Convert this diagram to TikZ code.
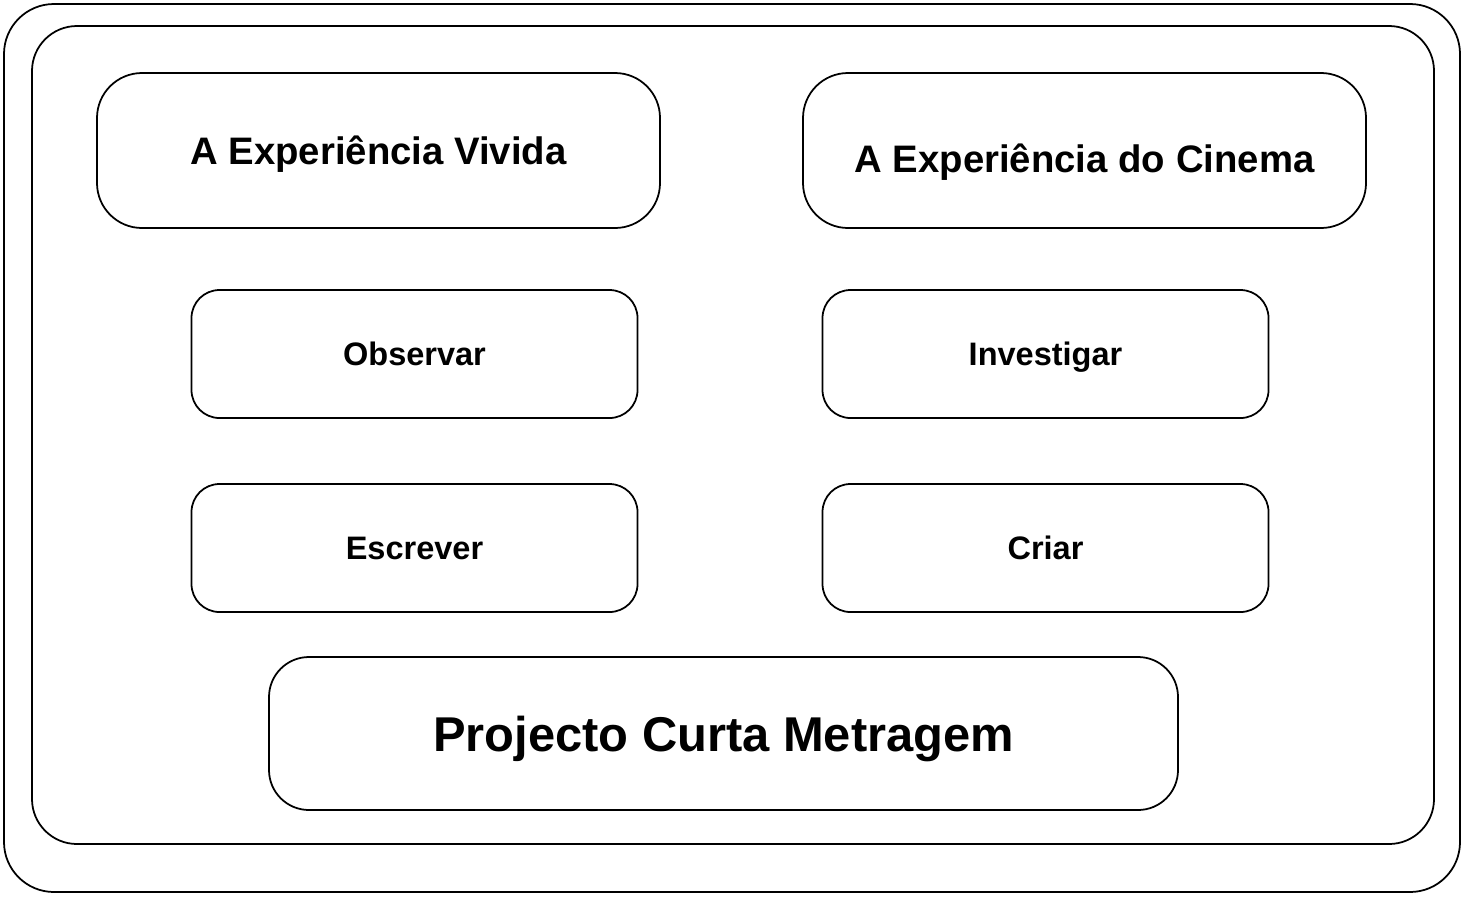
\documentclass[tikz,border=0pt]{standalone}
\usepackage{fontspec}
\setmainfont{Liberation Sans}
\usepackage{tikz}

\begin{document}
\begin{tikzpicture}[font=\bfseries,
  frame/.style={draw=black,line width=1pt},
  bigbox/.style={draw=black,line width=1pt,rounded corners=0.9cm,
                 minimum width=11.26cm,minimum height=3.1cm,
                 text height=15.7pt,text depth=0pt,
                 font=\fontsize{21.8}{26}\selectfont\bfseries},
  smallbox/.style={draw=black,line width=1pt,rounded corners=0.56cm,
                   minimum width=8.92cm,minimum height=2.56cm,
                   text height=13.3pt,text depth=0pt,
                   font=\fontsize{18.5}{22}\selectfont\bfseries},
  projbox/.style={draw=black,line width=1pt,rounded corners=0.8cm,
                  minimum width=18.18cm,minimum height=3.06cm,
                  text height=20pt,text depth=0pt,
                  font=\fontsize{27.8}{33}\selectfont\bfseries}]
  \useasboundingbox (0,0) rectangle (29.28,-17.92);
  % frames
  \draw[frame,rounded corners=1cm] (0.08,-0.08) rectangle (29.2,-17.84);
  \draw[frame,rounded corners=0.9cm] (0.64,-0.52) rectangle (28.68,-16.88);
  % top row
  \node[bigbox] (vivida) at (7.57,-3.01) {A Experiência Vivida};
  \node[bigbox,text height=0.87cm] (cinema) at (21.69,-3.01)
    {A Experiência do Cinema};
  % middle rows
  \node[smallbox] (observar) at (8.29,-7.08) {Observar};
  \node[smallbox] (investigar) at (20.91,-7.08) {Investigar};
  \node[smallbox] (escrever) at (8.29,-10.96) {Escrever};
  \node[smallbox] (criar) at (20.91,-10.96) {Criar};
  % bottom
  \node[projbox] (projecto) at (14.47,-14.67) {Projecto Curta Metragem};
\end{tikzpicture}
\end{document}
